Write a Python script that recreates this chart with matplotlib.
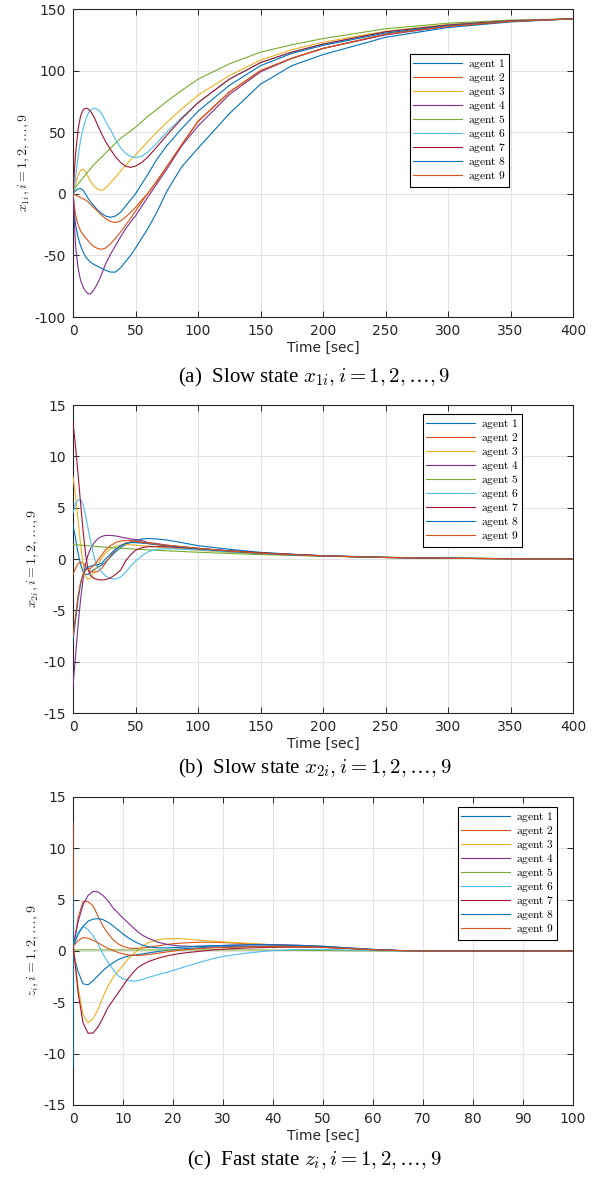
import matplotlib.pyplot as plt

plt.rcParams['mathtext.fontset'] = 'cm'
plt.rcParams['font.family'] = ['DejaVu Sans']
plt.rcParams['axes.unicode_minus'] = False

# time samples
t_slow = [0, 2, 4, 6, 8, 10, 12, 14, 17, 20, 23, 26, 30, 34, 38, 42, 46, 50, 55, 60,
          67, 75, 87, 100, 125, 150, 175, 200, 250, 300, 350, 400]
t_fast = [0, 0.1, 1, 2, 3, 4, 5, 6, 7, 8, 9, 10, 11, 12, 13, 14, 15, 17, 19, 21, 23,
          25, 28, 31, 35, 40, 45, 50, 55, 60, 65, 70, 80, 90, 100]

agents = ['agent 1', 'agent 2', 'agent 3', 'agent 4', 'agent 5',
          'agent 6', 'agent 7', 'agent 8', 'agent 9']
colors = ['#0072BD', '#D95319', '#EDB120', '#7E2F8E', '#77AC30',
          '#4DBEEE', '#A2142F', '#0072BD', '#D95319']

# (a) slow state x_1i
x1_a1 = [0, -25, -35, -42, -47, -51, -53.5, -55.5, -57.5, -59, -60.5, -62, -63.5, -63.5, -60, -55,
         -50, -44, -36, -28, -15, 2, 22, 37, 65, 89, 104, 113, 127, 135, 139.5, 142]
x1_a2 = [0, -17, -25, -30, -33, -35.5, -38, -40.5, -43, -44.5, -45, -44, -40.5, -36, -31, -25.5,
         -20, -14, -6.5, 0.5, 10.5, 22, 40, 58.5, 82.5, 100, 110, 118, 129.5, 136, 140, 142]
x1_a3 = [-2, 8, 15, 19, 20, 18, 14, 10, 6, 3.5, 2.8, 4.5, 9, 13.5, 18.5, 23,
         27.5, 31.5, 37, 42.5, 50, 58, 69, 80, 96, 108.5, 117, 123, 132, 137.5, 140.5, 142]
x1_a4 = [0, -42, -60, -70, -75.5, -79, -81, -81.3, -77.5, -72, -65, -57, -49, -42, -35, -28.5,
         -23, -18, -10, -2.5, 8, 20, 39, 55, 80.5, 99, 110, 118, 129, 136, 140, 142]
x1_a5 = [2, 5, 8, 10.5, 13, 15.5, 18, 20.5, 24, 27, 30, 33, 37, 41, 45, 48,
         51, 54, 58.5, 63, 68.5, 75, 84, 93, 105.5, 115, 121, 126, 134, 138.5, 141, 142]
x1_a6 = [0, 12, 30, 43, 53, 60, 65, 68, 69.5, 68.5, 65, 59, 52, 44, 37.5, 33,
         30.5, 29.5, 30.5, 34, 41, 50, 62, 74, 93, 106.5, 115, 121.5, 131.5, 137, 140.5, 142]
x1_a7 = [0, 32, 52, 63, 68, 69.5, 69, 67, 62, 55, 48.5, 42.5, 36, 30, 25.5, 22.5,
         21.5, 22.5, 25.5, 30, 38, 47.5, 61, 74, 93, 106.5, 115, 121.5, 131.5, 137, 140.5, 142]
x1_a8 = [0, 2.5, 4, 4.3, 3, 0, -3.5, -6.5, -10, -13.5, -16, -18, -19, -18, -15, -10,
         -5, 0, 8, 16, 28, 39, 53, 67, 88, 104, 114, 120.5, 130.5, 136.5, 140, 142]
x1_a9 = [0, -1, -2, -3, -4, -5, -6.5, -8.5, -11.5, -14.5, -17.5, -20, -22.5, -23.3, -22, -19,
         -15, -11, -5, 0.5, 10, 22, 40, 59, 82.5, 100, 110, 118, 129.5, 136, 140, 142]

# (b) slow state x_2i
x2_a1 = [3.3, 2.0, 0.6, -0.5, -1.2, -1.5, -1.5, -1.3, -1.0, -0.8, -0.6, -0.3, 0.2, 0.7, 1.1, 1.4,
         1.65, 1.8, 1.95, 2.0, 1.95, 1.85, 1.6, 1.3, 0.95, 0.65, 0.47, 0.33, 0.16, 0.07, 0.03, 0.01]
x2_a2 = [-1.5, -0.9, -0.45, -0.3, -0.4, -0.7, -1.0, -1.2, -1.3, -1.2, -0.9, -0.4, 0.3, 0.9, 1.3, 1.55,
         1.65, 1.65, 1.6, 1.5, 1.4, 1.3, 1.15, 1.0, 0.75, 0.55, 0.4, 0.3, 0.15, 0.07, 0.03, 0.01]
x2_a3 = [8, 6.2, 3.8, 1.5, -0.5, -1.7, -2.0, -1.8, -1.2, -0.5, 0.1, 0.6, 1.0, 1.25, 1.35, 1.4,
         1.4, 1.35, 1.3, 1.25, 1.2, 1.1, 1.0, 0.85, 0.65, 0.5, 0.38, 0.28, 0.14, 0.07, 0.03, 0.01]
x2_a4 = [-12.3, -9.5, -6.5, -4.0, -2.0, -0.5, 0.4, 1.0, 1.6, 2.0, 2.2, 2.3, 2.3, 2.25, 2.15, 2.05,
         1.95, 1.9, 1.8, 1.6, 1.5, 1.35, 1.2, 1.05, 0.8, 0.6, 0.45, 0.32, 0.16, 0.08, 0.03, 0.01]
x2_a5 = [1.4, 1.39, 1.37, 1.35, 1.33, 1.31, 1.29, 1.27, 1.24, 1.21, 1.18, 1.15, 1.12, 1.08, 1.05, 1.02,
         0.99, 0.96, 0.93, 0.89, 0.85, 0.8, 0.73, 0.66, 0.54, 0.44, 0.35, 0.28, 0.17, 0.1, 0.05, 0.02]
x2_a6 = [4.5, 5.4, 5.75, 5.8, 5.3, 4.3, 3.0, 1.8, 0.1, -0.8, -1.3, -1.65, -1.9, -1.95, -1.75, -1.3,
         -0.7, -0.2, 0.3, 0.7, 0.95, 1.0, 0.95, 0.9, 0.7, 0.55, 0.4, 0.3, 0.15, 0.07, 0.03, 0.01]
x2_a7 = [13.3, 11, 8.3, 5.5, 2.8, 0.5, -1.0, -1.6, -1.9, -2.0, -2.05, -2.0, -1.85, -1.5, -1.1, -0.2,
         0.4, 0.85, 1.1, 1.2, 1.2, 1.2, 1.1, 1.0, 0.8, 0.6, 0.45, 0.3, 0.15, 0.07, 0.03, 0.01]
x2_a8 = [-7.9, -6.0, -4.0, -2.5, -1.5, -1.0, -0.8, -0.7, -0.6, -0.55, -0.4, 0.0, 0.5, 0.95, 1.3, 1.5,
         1.6, 1.6, 1.55, 1.5, 1.4, 1.3, 1.15, 1.0, 0.75, 0.55, 0.4, 0.3, 0.15, 0.07, 0.03, 0.01]
x2_a9 = [-7.5, -5.5, -3.6, -2.3, -1.5, -1.1, -1.0, -0.9, -0.6, -0.1, 0.4, 0.9, 1.3, 1.6, 1.75, 1.8,
         1.8, 1.75, 1.65, 1.55, 1.45, 1.35, 1.2, 1.05, 0.78, 0.57, 0.42, 0.31, 0.15, 0.07, 0.03, 0.01]

# (c) fast state z_i
z_a1 = [-11.4, -0.3, -2.0, -3.2, -3.3, -2.9, -2.4, -1.9, -1.5, -1.15, -0.85, -0.65, -0.5, -0.42, -0.35, -0.28,
        -0.2, -0.05, 0.08, 0.18, 0.25, 0.3, 0.38, 0.42, 0.45, 0.45, 0.42, 0.35, 0.25, 0.12, 0.04, 0, 0, 0, 0]
z_a2 = [12.5, 0.5, 3.2, 4.8, 4.8, 4.4, 3.4, 2.4, 1.7, 1.1, 0.7, 0.45, 0.3, 0.25, 0.25, 0.3,
        0.35, 0.5, 0.65, 0.75, 0.8, 0.85, 0.85, 0.8, 0.7, 0.6, 0.5, 0.4, 0.25, 0.12, 0.04, 0, 0, 0, 0]
z_a3 = [0.5, 0.3, -3.5, -6.2, -7.0, -6.6, -5.7, -4.5, -3.4, -2.6, -2.0, -1.4, -0.8, -0.3, 0.1, 0.5,
        0.8, 1.1, 1.2, 1.2, 1.15, 1.05, 0.95, 0.85, 0.75, 0.6, 0.5, 0.4, 0.25, 0.12, 0.04, 0, 0, 0, 0]
z_a4 = [0.5, 0.6, 2.8, 4.5, 5.4, 5.8, 5.75, 5.4, 4.9, 4.2, 3.7, 3.2, 2.75, 2.3, 1.85, 1.5,
        1.25, 0.85, 0.62, 0.5, 0.45, 0.45, 0.5, 0.55, 0.6, 0.6, 0.55, 0.45, 0.3, 0.15, 0.05, 0, 0, 0, 0]
z_a5 = [0.1, 0.1, 0.1, 0.1, 0.1, 0.1, 0.1, 0.1, 0.1, 0.1, 0.1, 0.1, 0.1, 0.1, 0.1, 0.1,
        0.1, 0.1, 0.1, 0.1, 0.1, 0.1, 0.1, 0.1, 0.1, 0.08, 0.06, 0.04, 0.02, 0.01, 0, 0, 0, 0, 0]
z_a6 = [0.5, 0.6, 1.8, 2.4, 2.1, 1.5, 0.7, -0.3, -1.1, -1.8, -2.4, -2.7, -2.85, -2.95, -2.9, -2.75,
        -2.6, -2.3, -2.05, -1.75, -1.45, -1.15, -0.75, -0.45, -0.2, 0.05, 0.15, 0.15, 0.1, 0.05, 0, 0, 0, 0, 0]
z_a7 = [0.5, 0.3, -4.0, -7.0, -8.0, -8.0, -7.4, -6.5, -5.5, -4.8, -4.1, -3.4, -2.7, -2.1, -1.6, -1.3,
        -1.05, -0.7, -0.45, -0.28, -0.15, -0.05, 0.1, 0.2, 0.3, 0.35, 0.38, 0.35, 0.25, 0.12, 0.04, 0, 0, 0, 0]
z_a8 = [5.3, 0.5, 1.6, 2.4, 2.9, 3.1, 3.15, 3.05, 2.8, 2.45, 2.05, 1.65, 1.3, 1.0, 0.75, 0.55,
        0.42, 0.3, 0.3, 0.35, 0.4, 0.45, 0.5, 0.55, 0.6, 0.6, 0.55, 0.45, 0.3, 0.15, 0.05, 0, 0, 0, 0]
z_a9 = [0.5, 0.5, 1.0, 1.3, 1.25, 1.05, 0.8, 0.5, 0.25, 0.05, -0.15, -0.28, -0.38, -0.42, -0.43, -0.4,
        -0.35, -0.22, -0.08, 0.05, 0.15, 0.22, 0.3, 0.35, 0.4, 0.42, 0.4, 0.35, 0.25, 0.12, 0.04, 0, 0, 0, 0]

x1_all = [x1_a1, x1_a2, x1_a3, x1_a4, x1_a5, x1_a6, x1_a7, x1_a8, x1_a9]
x2_all = [x2_a1, x2_a2, x2_a3, x2_a4, x2_a5, x2_a6, x2_a7, x2_a8, x2_a9]
z_all = [z_a1, z_a2, z_a3, z_a4, z_a5, z_a6, z_a7, z_a8, z_a9]

fig = plt.figure(figsize=(5.99, 11.87), dpi=100)

panels = [
    dict(t=t_slow, data=x1_all, bottom=0.7329, xlim=(0, 400), xstep=50, ylim=(-100, 150), ystep=50,
         ylabel=r'$x_{1i}, i=1,2,\ldots,9$', leg=(0.674, 0.854),
         caption=r'(a)  Slow state $x_{1i}, i=1,2,\ldots,9$', cy=0.6824),
    dict(t=t_slow, data=x2_all, bottom=0.3993, xlim=(0, 400), xstep=50, ylim=(-15, 15), ystep=5,
         ylabel=r'$x_{2i}, i=1,2,\ldots,9$', leg=(0.70, 0.971),
         caption=r'(b)  Slow state $x_{2i}, i=1,2,\ldots,9$', cy=0.3530),
    dict(t=t_fast, data=z_all, bottom=0.0691, xlim=(0, 100), xstep=10, ylim=(-15, 15), ystep=5,
         ylabel=r'$z_{i}, i=1,2,\ldots,9$', leg=(0.77, 0.968),
         caption=r'(c)  Fast state $z_{i}, i=1,2,\ldots,9$', cy=0.0227),
]

dark = '#262626'
for p in panels:
    ax = fig.add_axes([0.1219, p['bottom'], 0.8347, 0.2595])
    for vals, lab, c in zip(p['data'], agents, colors):
        ax.plot(p['t'], vals, color=c, lw=0.8, zorder=3,
                label=r'$\mathrm{' + lab.replace(' ', r'\ ') + '}$')
    ax.set_xlim(*p['xlim'])
    ax.set_ylim(*p['ylim'])
    x0, x1 = p['xlim']
    ax.set_xticks(range(x0, x1 + 1, p['xstep']))
    y0, y1 = p['ylim']
    ax.set_yticks(range(y0, y1 + 1, p['ystep']))
    ax.grid(True, color='#e3e3e3', lw=0.8)
    ax.set_axisbelow(True)
    ax.tick_params(direction='in', top=True, right=True, length=4, width=0.7,
                   labelsize=10, colors=dark, pad=5)
    for s in ax.spines.values():
        s.set_color(dark)
        s.set_linewidth(0.8)
    ax.set_xlabel('Time [sec]', fontsize=10, color=dark, labelpad=2)
    ax.set_ylabel(p['ylabel'], fontsize=10, color=dark, labelpad=2)
    leg = ax.legend(loc='upper left', bbox_to_anchor=p['leg'], borderaxespad=0,
                    fontsize=8.2, handlelength=4.3, labelspacing=0.0, handletextpad=0.45,
                    borderpad=0.3, fancybox=False, framealpha=1, edgecolor='black')
    leg.get_frame().set_linewidth(0.8)
    leg.set_zorder(5)
    fig.text(0.525, p['cy'], p['caption'], ha='center', va='center', fontsize=15,
             family='Liberation Serif')

fig.savefig('out.png', dpi=100)
